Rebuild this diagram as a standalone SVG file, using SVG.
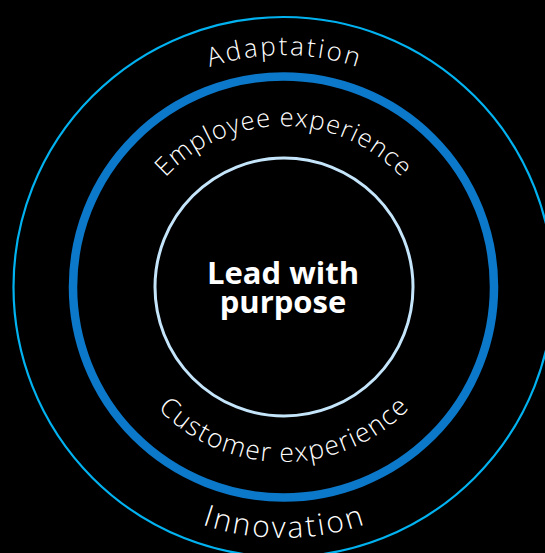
<svg xmlns="http://www.w3.org/2000/svg" width="545" height="553" viewBox="0 0 545 553">
  <style>
    .ring { fill: none; }
    .arc { font-family: "Open Sans", "Liberation Sans", sans-serif; font-weight: 300; fill: #ffffff; }
    .center { font-family: "Open Sans", "Liberation Sans", sans-serif; font-weight: 700; font-size: 31px; fill: #ffffff; text-anchor: middle; }
  </style>
  <defs>
    <path id="pAdapt" d="M 51.5,287 A 232 232 0 0 1 515.5,287"/>
    <path id="pEmp" d="M 122.5,287 A 161 161 0 0 1 444.5,287"/>
    <path id="pCust" d="M 108.5,287 A 175 175 0 0 0 458.5,287"/>
    <path id="pInno" d="M 32.5,287 A 251 251 0 0 0 534.5,287"/>
  </defs>
  <rect x="0" y="0" width="545" height="553" fill="#000000"/>
  <g id="outer-ring">
    <circle class="ring" cx="283.5" cy="287" r="270" stroke="#00b2f0" stroke-width="2.2"/>
    <text class="arc" font-size="26"><textPath href="#pAdapt" startOffset="50%" text-anchor="middle" textLength="150" lengthAdjust="spacing">Adaptation</textPath></text>
    <text class="arc" font-size="30"><textPath href="#pInno" startOffset="50%" text-anchor="middle" textLength="166" lengthAdjust="spacing">Innovation</textPath></text>
  </g>
  <g id="middle-ring">
    <circle class="ring" cx="283.5" cy="287" r="210.5" stroke="#0c78c9" stroke-width="8.5"/>
    <text class="arc" font-size="25.5"><textPath href="#pEmp" startOffset="50%" text-anchor="middle" textLength="265" lengthAdjust="spacing">Employee experience</textPath></text>
    <text class="arc" font-size="26.5"><textPath href="#pCust" startOffset="50%" text-anchor="middle" textLength="281" lengthAdjust="spacing">Customer experience</textPath></text>
  </g>
  <g id="core">
    <circle class="ring" cx="284" cy="287" r="129" stroke="#c5e5fb" stroke-width="3"/>
    <text class="center" x="283" y="284">Lead with</text>
    <text class="center" x="283" y="313">purpose</text>
  </g>
</svg>
